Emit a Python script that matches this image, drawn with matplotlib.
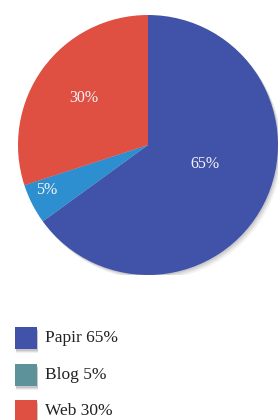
import numpy as np
import matplotlib
matplotlib.use("Agg")
from matplotlib import pyplot as plt
from matplotlib.patches import Rectangle, Circle

# data
labels = ["Papir", "Blog", "Web"]
values = [65, 5, 30]
pie_colors = ["#4153a9", "#2d8fd0", "#df4f42"]
legend_colors = ["#4153a9", "#5e929b", "#df4f42"]

plt.rcParams['font.family'] = ['Liberation Serif', 'DejaVu Serif']

fig = plt.figure(figsize=(2.8, 4.2), dpi=100)

# pie
ax = fig.add_axes([18 / 280, 145 / 420, 260 / 280, 260 / 420])
# soft shadow behind the whole pie
for k, a in [(3, 0.05), (2, 0.07), (1, 0.09)]:
    ax.add_patch(Circle((0.01 * k, -0.012 * k), 1.0, facecolor="#000000", alpha=a,
                        edgecolor="none", zorder=0))
wedges, _ = ax.pie(values, colors=pie_colors, startangle=90, counterclock=False,
                   radius=1.0, wedgeprops=dict(linewidth=0, zorder=1))
ax.set_xlim(-1, 1)
ax.set_ylim(-1, 1)
ax.set_aspect("equal")

# label positions (radius fraction, extra angle shift)
label_pos = [(0.46, 8), (0.85, -3), (0.61, 0)]
for w, v, (r, da) in zip(wedges, values, label_pos):
    ang = np.deg2rad((w.theta1 + w.theta2) / 2 + da)
    ax.text(r * np.cos(ang), r * np.sin(ang), f"{v}%", color="#f4f4f4",
            fontsize=11.5, ha="center", va="center", zorder=3)

# legend
lax = fig.add_axes([0, 0, 1, 1])
lax.set_xlim(0, 280)
lax.set_ylim(420, 0)
lax.axis("off")
ys = [338, 375, 411]
for lab, v, c, y in zip(labels, values, legend_colors, ys):
    for k, a in [(4, 0.06), (3, 0.08), (2, 0.1)]:
        lax.add_patch(Rectangle((15 + 0.5, y - 11 + k), 22, 22, facecolor="#000000",
                                alpha=a, edgecolor="none"))
    lax.add_patch(Rectangle((15, y - 11), 22, 22, facecolor=c, edgecolor="none"))
    lax.text(45, y, f"{lab} {v}%", fontsize=12.5, color="#222222", va="center", ha="left")

fig.savefig("out.png", dpi=100)
